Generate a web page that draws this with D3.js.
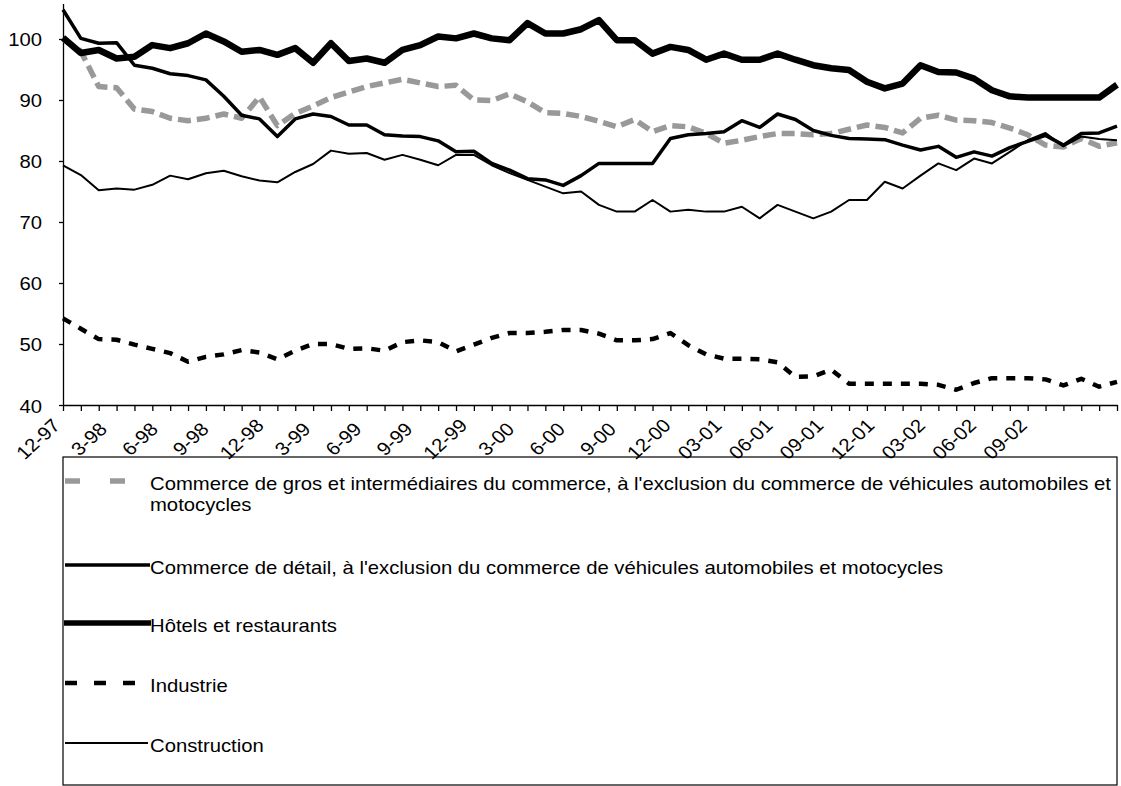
<!DOCTYPE html>
<html>
<head>
<meta charset="utf-8">
<script src="https://cdn.jsdelivr.net/npm/d3@7"></script>
<style>
body { margin: 0; background: #fff; }
svg { font-family: "Liberation Sans", Arial, sans-serif; }
</style>
</head>
<body>
<script>
// Months on the x axis (12-97 .. 11-02)
var months = ["12-97",
  "1-98","2-98","3-98","4-98","5-98","6-98","7-98","8-98","9-98","10-98","11-98","12-98",
  "1-99","2-99","3-99","4-99","5-99","6-99","7-99","8-99","9-99","10-99","11-99","12-99",
  "1-00","2-00","3-00","4-00","5-00","6-00","7-00","8-00","9-00","10-00","11-00","12-00",
  "01-01","02-01","03-01","04-01","05-01","06-01","07-01","08-01","09-01","10-01","11-01","12-01",
  "01-02","02-02","03-02","04-02","05-02","06-02","07-02","08-02","09-02","10-02","11-02"];

var tickLabels = ["12-97","3-98","6-98","9-98","12-98","3-99","6-99","9-99","12-99","3-00",
  "6-00","9-00","12-00","03-01","06-01","09-01","12-01","03-02","06-02","09-02"];

var yTicks = [40, 50, 60, 70, 80, 90, 100];

var gros = [100.0, 98.0, 92.2, 92.0, 88.5, 88.1, 87.0, 86.6, 87.0, 87.7,
  87.0, 90.5, 85.8, 87.8, 89.0, 90.4, 91.3, 92.2, 92.8, 93.4,
  92.8, 92.2, 92.4, 90.0, 89.9, 91.0, 89.7, 87.9, 87.8, 87.3,
  86.5, 85.6, 86.8, 84.8, 85.8, 85.6, 84.5, 82.9, 83.4, 84.0,
  84.5, 84.5, 84.3, 84.5, 85.2, 85.9, 85.5, 84.6, 87.0, 87.5,
  86.7, 86.6, 86.3, 85.4, 84.3, 82.6, 82.3, 83.7, 82.4, 83.0];

var detail = [104.8, 100.1, 99.3, 99.4, 95.7, 95.2, 94.3, 94.0, 93.3, 90.6,
  87.5, 86.9, 84.0, 86.9, 87.7, 87.3, 85.9, 85.9, 84.3, 84.1,
  84.0, 83.3, 81.5, 81.6, 79.6, 78.5, 77.1, 76.9, 76.0, 77.6,
  79.6, 79.6, 79.6, 79.6, 83.7, 84.3, 84.5, 84.8, 86.6, 85.5,
  87.7, 86.8, 85.0, 84.2, 83.7, 83.6, 83.5, 82.6, 81.8, 82.4,
  80.6, 81.5, 80.8, 82.2, 83.2, 84.2, 82.6, 84.5, 84.6, 85.7];

var hotels = [100.2, 97.7, 98.2, 96.8, 97.1, 99.0, 98.5, 99.3, 100.9, 99.6,
  97.9, 98.2, 97.4, 98.5, 96.1, 99.3, 96.4, 96.8, 96.1, 98.2,
  99.0, 100.4, 100.1, 100.9, 100.1, 99.8, 102.6, 100.9, 100.9, 101.6,
  103.1, 99.8, 99.8, 97.6, 98.7, 98.2, 96.6, 97.6, 96.6, 96.6,
  97.6, 96.6, 95.7, 95.2, 94.9, 93.0, 91.9, 92.7, 95.7, 94.6,
  94.5, 93.5, 91.6, 90.6, 90.4, 90.4, 90.4, 90.4, 90.4, 92.5];

var industrie = [54.2, 52.5, 50.8, 50.7, 49.9, 49.2, 48.5, 47.1, 47.9, 48.3,
  49.0, 48.6, 47.5, 48.9, 50.0, 50.0, 49.2, 49.3, 48.9, 50.3,
  50.6, 50.3, 48.8, 49.9, 51.0, 51.8, 51.8, 52.0, 52.3, 52.3,
  51.7, 50.6, 50.6, 50.8, 51.8, 49.8, 48.3, 47.6, 47.6, 47.5,
  47.0, 44.6, 44.7, 45.8, 43.5, 43.5, 43.5, 43.5, 43.5, 43.3,
  42.5, 43.6, 44.4, 44.4, 44.4, 44.2, 43.2, 44.3, 43.0, 43.8];

var construction = [79.3, 77.7, 75.2, 75.5, 75.3, 76.1, 77.6, 77.0, 78.0, 78.4,
  77.5, 76.8, 76.5, 78.2, 79.5, 81.7, 81.2, 81.3, 80.2, 81.0,
  80.2, 79.3, 81.0, 81.0, 79.3, 78.0, 76.9, 75.8, 74.7, 75.0,
  72.8, 71.7, 71.7, 73.6, 71.7, 72.0, 71.7, 71.7, 72.5, 70.6,
  72.8, 71.7, 70.6, 71.7, 73.6, 73.6, 76.6, 75.5, 77.6, 79.6,
  78.5, 80.4, 79.6, 81.5, 83.4, 84.6, 82.4, 84.0, 83.6, 83.4];

var names = [
  ["Commerce de gros et intermédiaires du commerce, à l'exclusion du commerce de véhicules automobiles et", "motocycles"],
  ["Commerce de détail, à l'exclusion du commerce de véhicules automobiles et motocycles"],
  ["Hôtels et restaurants"],
  ["Industrie"],
  ["Construction"]
];

// Dimensions
let w = 1121;
let h = 786;
let left = 63, right = 1117, bottom = 405;
let sx = 1.09; // the picture is a bit wide, so text is stretched too
let fs = 18.6;

var svg = d3.select("body")
  .append("svg")
  .attr("width", w)
  .attr("height", h);

let xScale = d3.scalePoint()
  .domain(months)
  .range([left, right]);

// the rotated labels sit a little tighter than the ticks in the original
let labelScale = d3.scalePoint()
  .domain(tickLabels)
  .range([38, 1005]);

let yScale = d3.scaleLinear()
  .domain([40, 105.8])
  .range([bottom, 3.6]);

// Series styles (same order as the legend)
var series = [
  {values: gros, color: "#999", width: 5.5, dash: "13,6"},
  {values: detail, color: "#000", width: 3.5, dash: null},
  {values: hotels, color: "#000", width: 6.5, dash: null},
  {values: industrie, color: "#000", width: 4.5, dash: "9,9"},
  {values: construction, color: "#000", width: 2, dash: null}
];

let line = d3.line()
  .x(function(d, i){ return xScale(months[i]); })
  .y(function(d){ return yScale(d); });

// Axes
let yAxis = d3.axisLeft(yScale)
  .tickValues(yTicks)
  .tickSize(4)
  .tickSizeOuter(0);

let xAxis = d3.axisBottom(xScale)
  .tickSize(6)
  .tickSizeOuter(0)
  .tickFormat("");

var gy = svg.append("g")
  .attr("transform", "translate(" + left + ",0)")
  .call(yAxis);

gy.selectAll("text")
  .attr("font-size", fs)
  .attr("font-family", null)
  .attr("fill", "#000")
  .attr("x", null).attr("dy", null)
  .attr("transform", "translate(-21,7) scale(" + sx + ",1)");

var gx = svg.append("g")
  .attr("transform", "translate(0," + bottom + ")")
  .call(xAxis);

svg.selectAll(".domain, .tick line")
  .attr("stroke", "#000")
  .attr("stroke-width", 1.3);

// Rotated month labels
svg.selectAll("text.xlab")
  .data(tickLabels)
  .enter()
  .append("text")
  .attr("class", "xlab")
  .attr("font-size", fs)
  .attr("text-anchor", "middle")
  .attr("dy", "0.35em")
  .attr("transform", function(d){
    return "translate(" + labelScale(d) + ",439) scale(" + sx + ",1) rotate(-45)";
  })
  .text(function(d){ return d; });

// Lines
svg.selectAll("path.series")
  .data(series)
  .enter()
  .append("path")
  .attr("class", "series")
  .attr("fill", "none")
  .attr("stroke", function(d){ return d.color; })
  .attr("stroke-width", function(d){ return d.width; })
  .attr("stroke-dasharray", function(d){ return d.dash; })
  .attr("stroke-linejoin", "round")
  .attr("d", function(d){ return line(d.values); });

// Legend
let lgTop = 457, lgBottom = 785;
svg.append("rect")
  .attr("x", left)
  .attr("y", lgTop)
  .attr("width", right - left)
  .attr("height", lgBottom - lgTop)
  .attr("fill", "none")
  .attr("stroke", "#000")
  .attr("stroke-width", 1.2);

var rows = [483, 567, 625, 685, 745];
var samples = [
  {x1: 65, x2: 128, dash: "15,30"},
  {x1: 65, x2: 150, dash: null},
  {x1: 64, x2: 151, dash: null},
  {x1: 65, x2: 136, dash: "12,17"},
  {x1: 65, x2: 148, dash: null}
];

var lg = svg.selectAll("g.legend")
  .data(series)
  .enter()
  .append("g")
  .attr("class", "legend");

lg.append("line")
  .attr("x1", function(d, i){ return samples[i].x1; })
  .attr("x2", function(d, i){ return samples[i].x2; })
  .attr("y1", function(d, i){ return rows[i] - 2; })
  .attr("y2", function(d, i){ return rows[i] - 2; })
  .attr("stroke", function(d){ return d.color; })
  .attr("stroke-width", function(d){ return Math.min(d.width, 5.5); })
  .attr("stroke-dasharray", function(d, i){ return samples[i].dash; });

lg.each(function(d, i){
  var g = d3.select(this);
  names[i].forEach(function(t, k){
    g.append("text")
      .attr("transform", "translate(150," + (rows[i] + 6.5 + k * 21) + ") scale(" + sx + ",1)")
      .attr("font-size", fs)
      .attr("fill", "#000")
      .text(t);
  });
});
</script>
</body>
</html>
